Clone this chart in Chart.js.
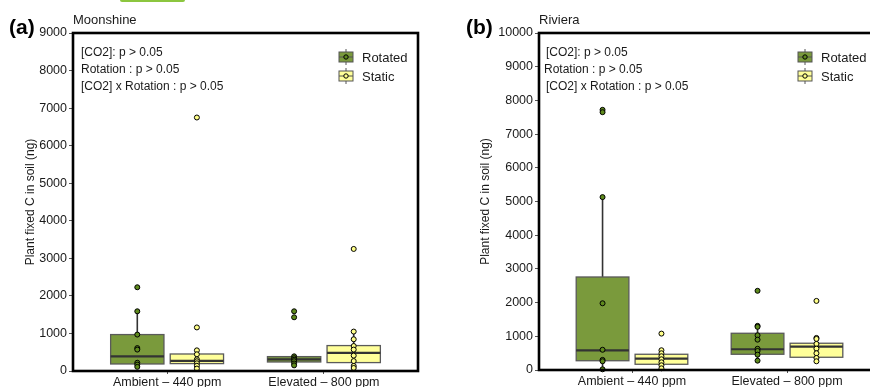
<!DOCTYPE html>
<html>
<head>
<meta charset="utf-8">
<script src="https://cdn.jsdelivr.net/npm/chart.js@4.4.1/dist/chart.umd.min.js"></script>
<style>
  body { margin: 0; width: 870px; height: 387px; overflow: hidden; background: #fff; position: relative; }
  #chartA { position: absolute; left: 0; top: 0; }
  #chartB { position: absolute; left: 435px; top: 0; }
  #tab { position: absolute; left: 120px; top: 0; width: 65px; height: 2px; background: #8cc63f; border-radius: 0 0 4px 4px; }
</style>
</head>
<body>
<div id="tab"></div>
<canvas id="chartA" width="435" height="387"></canvas>
<canvas id="chartB" width="462" height="387"></canvas>
<script>
// ---------- DATA ----------

var categories = ["Ambient \u2013 440 ppm", "Elevated \u2013 800 ppm"];
var treatments = ["Rotated", "Static"];
var statsText = ["[CO2]: p > 0.05", "Rotation : p > 0.05", "[CO2] x Rotation : p > 0.05"];

// Moonshine - individual observations (ng)
var moonRotAmbient = [2230, 1590, 970, 610, 570, 220, 170, 110];
var moonRotElevated = [1590, 1430, 390, 340, 300, 260, 200, 150];
var moonStaAmbient = [6750, 1160, 550, 445, 310, 260, 205, 140, 65];
var moonStaElevated = [3250, 1050, 845, 665, 570, 410, 265, 135, 80];
// box stats: [lower whisker, Q1, median, Q3, upper whisker] per category
var moonRotBox = [[107, 187, 392, 970, 1590], [150, 240, 312, 383, 390]];
var moonStaBox = [[65, 197, 267, 453, 550], [80, 224, 480, 677, 1050]];

// Riviera
var rivRotAmbient = [7720, 7650, 5130, 1980, 600, 300, 260, 20];
var rivRotElevated = [2350, 1310, 1280, 1030, 900, 630, 565, 455, 277];
var rivStaAmbient = [1080, 586, 497, 408, 318, 229, 140, 50];
var rivStaElevated = [2050, 952, 922, 774, 634, 497, 357, 259];
var rivRotBox = [[20, 275, 585, 2760, 5130], [277, 467, 616, 1090, 1300]];
var rivStaBox = [[50, 170, 336, 467, 586], [259, 378, 694, 794, 952]];

// ---------- STYLE ----------

var FONT = "'Liberation Sans', Arial, Helvetica, sans-serif";
var rotFill = "#7a9a3c", staFill = "#ffff99";
var rotPoint = "#5e8a1c", staPoint = "#ffff88";
var dodge = 0.19, boxHalf = 0.17;

function pts(values, cat, off) {
  return values.map(function(v) { return { x: cat + 1 + off, y: v }; });
}

function makePanel(id, p) {
  var boxPlugin = {
    id: "boxes",
    beforeDatasetsDraw: function(chart) {
      var xs = chart.scales.x, ys = chart.scales.y, ctx = chart.ctx;
      var groups = [{ stats: p.rotBox, off: -dodge, fill: rotFill }, { stats: p.staBox, off: dodge, fill: staFill }];
      ctx.save();
      groups.forEach(function(g) {
        g.stats.forEach(function(s, i) {
          var cx = xs.getPixelForValue(i + 1 + g.off);
          var hw = xs.getPixelForValue(1 + boxHalf) - xs.getPixelForValue(1);
          var lo = ys.getPixelForValue(s[0]), q1 = ys.getPixelForValue(s[1]);
          var med = ys.getPixelForValue(s[2]), q3 = ys.getPixelForValue(s[3]);
          var hi = ys.getPixelForValue(s[4]);
          ctx.strokeStyle = "#333";
          ctx.lineWidth = 1.6;
          ctx.beginPath();
          ctx.moveTo(cx, hi); ctx.lineTo(cx, q3);
          ctx.moveTo(cx, q1); ctx.lineTo(cx, lo);
          ctx.stroke();
          ctx.fillStyle = g.fill;
          ctx.fillRect(cx - hw, q3, 2 * hw, q1 - q3);
          ctx.strokeStyle = "#5a5a5a";
          ctx.lineWidth = 1.3;
          ctx.strokeRect(cx - hw, q3, 2 * hw, q1 - q3);
          ctx.strokeStyle = "#333";
          ctx.lineWidth = 2.2;
          ctx.beginPath();
          ctx.moveTo(cx - hw, med); ctx.lineTo(cx + hw, med);
          ctx.stroke();
        });
      });
      ctx.restore();
    }
  };

  var decoPlugin = {
    id: "deco",
    afterDraw: function(chart) {
      var ctx = chart.ctx, a = chart.chartArea;
      ctx.save();
      // panel frame
      ctx.strokeStyle = "#000";
      ctx.lineWidth = 2.6;
      ctx.strokeRect(a.left, a.top, a.right - a.left, a.bottom - a.top);
      ctx.fillStyle = "#000";
      ctx.textBaseline = "alphabetic";
      ctx.textAlign = "left";
      ctx.font = "bold 21px " + FONT;
      ctx.fillText(p.tag, p.tagX, 34);
      ctx.fillStyle = "#1a1a1a";
      ctx.font = "13px " + FONT;
      ctx.fillText(p.name, a.left, 24);
      ctx.font = "12px " + FONT;
      statsText.forEach(function(t, i) {
        ctx.fillText(t, p.textX[i], 56 + i * 17);
      });
      // legend
      var rows = [{ label: treatments[0], fill: rotFill, pt: rotPoint, y: 57 }, { label: treatments[1], fill: staFill, pt: staPoint, y: 76 }];
      rows.forEach(function(r) {
        var cx = p.legX, cy = r.y;
        ctx.strokeStyle = "#555";
        ctx.lineWidth = 1;
        ctx.beginPath();
        ctx.moveTo(cx, cy - 8); ctx.lineTo(cx, cy + 8);
        ctx.stroke();
        ctx.fillStyle = r.fill;
        ctx.fillRect(cx - 7, cy - 5, 14, 10);
        ctx.strokeRect(cx - 7, cy - 5, 14, 10);
        ctx.beginPath();
        ctx.moveTo(cx - 7, cy); ctx.lineTo(cx + 7, cy);
        ctx.stroke();
        ctx.beginPath();
        ctx.arc(cx, cy, 2.2, 0, Math.PI * 2);
        ctx.fillStyle = r.pt;
        ctx.fill();
        ctx.strokeStyle = "#000";
        ctx.stroke();
        ctx.fillStyle = "#1a1a1a";
        ctx.font = "13px " + FONT;
        ctx.textBaseline = "middle";
        ctx.fillText(r.label, p.legX + 16, cy + 1);
      });
      ctx.restore();
    }
  };

  var pointStyle = function(color) {
    return { type: "scatter", backgroundColor: color, borderColor: "#000", borderWidth: 1, pointRadius: 2.5, clip: false };
  };

  var rotData = pts(p.rot[0], 0, -dodge).concat(pts(p.rot[1], 1, -dodge));
  var staData = pts(p.sta[0], 0, dodge).concat(pts(p.sta[1], 1, dodge));

  var ctx = document.getElementById(id).getContext("2d");
  return new Chart(ctx, {
    type: "scatter",
    data: {
      datasets: [
        Object.assign({ label: treatments[0], data: rotData }, pointStyle(rotPoint)),
        Object.assign({ label: treatments[1], data: staData }, pointStyle(staPoint))
      ]
    },
    options: {
      responsive: false,
      animation: false,
      layout: { padding: { top: 33, right: p.rightPad, left: 0, bottom: 0 } },
      plugins: { legend: { display: false }, tooltip: { enabled: false } },
      scales: {
        x: {
          type: "linear",
          min: 0.4,
          max: 2.6,
          afterBuildTicks: function(s) { s.ticks = [{ value: 1 }, { value: 2 }]; },
          afterFit: function(s) { s.height = p.xHeight; },
          ticks: {
            autoSkip: false,
            maxRotation: 0,
            padding: 1,
            color: "#1a1a1a",
            font: { family: FONT, size: 12.5 },
            callback: function(v) { return categories[v - 1]; }
          },
          grid: { drawOnChartArea: false, drawTicks: true, tickLength: 3, color: "#555" },
          border: { display: false }
        },
        y: {
          min: 0,
          max: p.yMax,
          afterFit: function(s) { s.width = p.yWidth; },
          ticks: {
            stepSize: 1000, padding: 2, color: "#1a1a1a",
            font: { family: FONT, size: 12.5 },
            callback: function(v) { return String(v); }
          },
          grid: { drawOnChartArea: false, drawTicks: true, tickLength: 4, color: "#555" },
          border: { display: false },
          title: {
            display: true,
            text: "Plant fixed C in soil (ng)",
            color: "#1a1a1a",
            font: { family: FONT, size: 12 },
            padding: { top: p.titlePad, bottom: 0 }
          }
        }
      }
    },
    plugins: [boxPlugin, decoPlugin]
  });
}

makePanel("chartA", {
  tag: "(a)", tagX: 9, name: "Moonshine",
  rot: [moonRotAmbient, moonRotElevated], sta: [moonStaAmbient, moonStaElevated],
  rotBox: moonRotBox, staBox: moonStaBox,
  yMax: 9000, yWidth: 73, titlePad: 23, rightPad: 17, xHeight: 16,
  textX: [81, 81, 81], legX: 346
});

makePanel("chartB", {
  tag: "(b)", tagX: 31, name: "Riviera",
  rot: [rivRotAmbient, rivRotElevated], sta: [rivStaAmbient, rivStaElevated],
  rotBox: rivRotBox, staBox: rivStaBox,
  yMax: 10000, yWidth: 104, titlePad: 43, rightPad: 17, xHeight: 17,
  textX: [111, 109, 111], legX: 370
});
</script>
</body>
</html>
